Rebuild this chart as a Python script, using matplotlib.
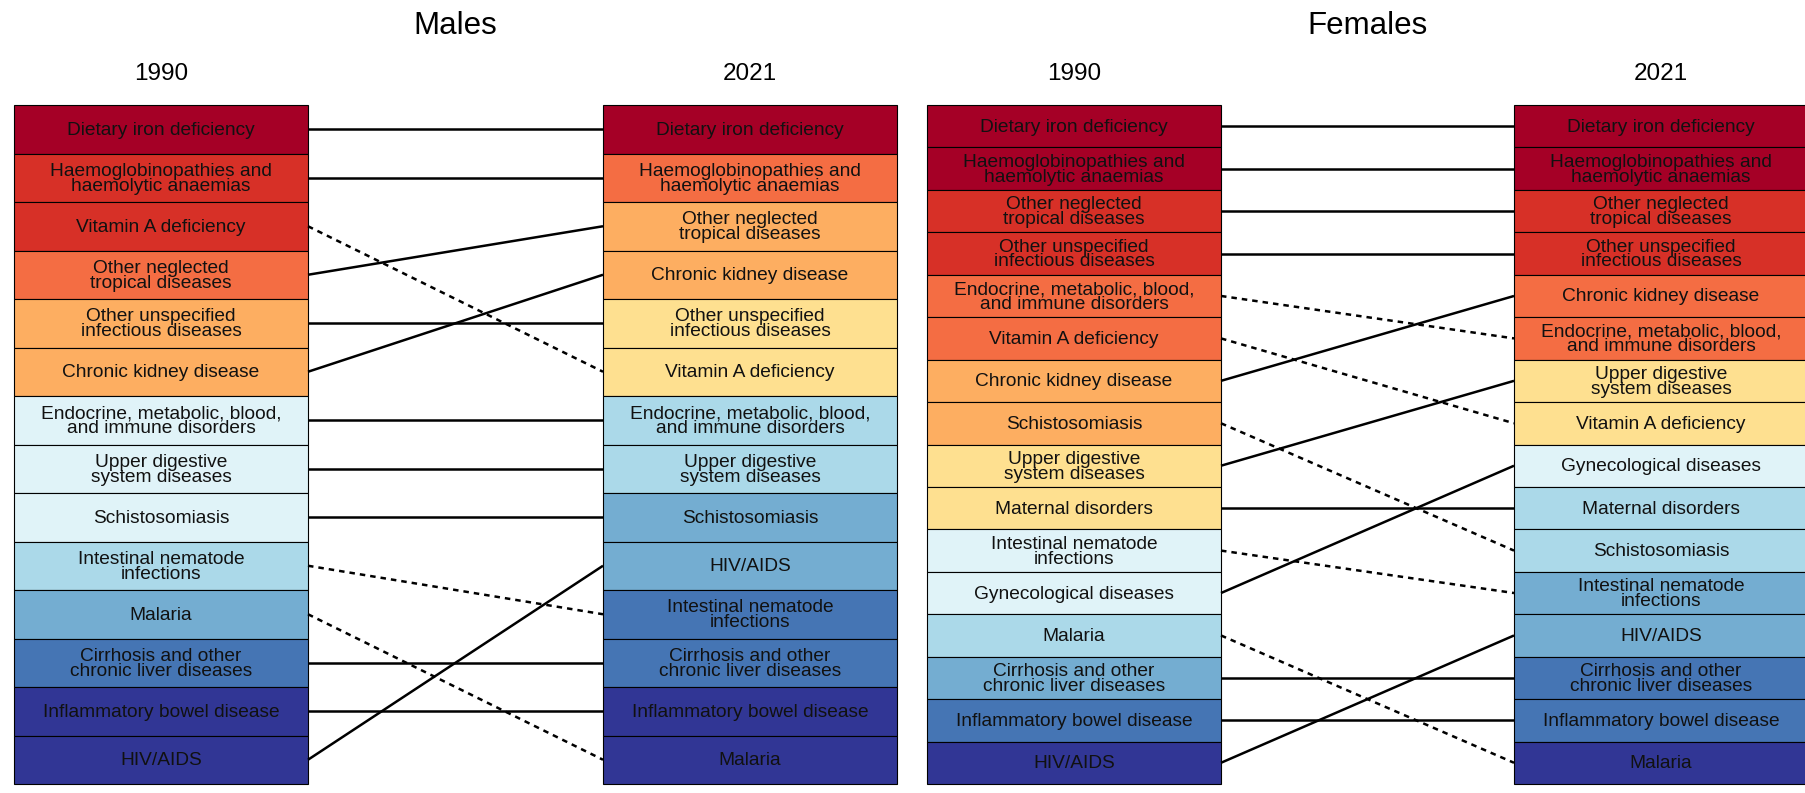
import matplotlib.pyplot as plt
from matplotlib.patches import Rectangle

# rankings (top to bottom) and colour class of each cell
male_1990 = ["Dietary iron deficiency", "Haemoglobinopathies and\nhaemolytic anaemias",
             "Vitamin A deficiency", "Other neglected\ntropical diseases",
             "Other unspecified\ninfectious diseases", "Chronic kidney disease",
             "Endocrine, metabolic, blood,\nand immune disorders", "Upper digestive\nsystem diseases",
             "Schistosomiasis", "Intestinal nematode\ninfections", "Malaria",
             "Cirrhosis and other\nchronic liver diseases", "Inflammatory bowel disease", "HIV/AIDS"]
male_1990_cls = [0, 1, 1, 2, 3, 3, 5, 5, 5, 6, 7, 8, 9, 9]

male_2021 = ["Dietary iron deficiency", "Haemoglobinopathies and\nhaemolytic anaemias",
             "Other neglected\ntropical diseases", "Chronic kidney disease",
             "Other unspecified\ninfectious diseases", "Vitamin A deficiency",
             "Endocrine, metabolic, blood,\nand immune disorders", "Upper digestive\nsystem diseases",
             "Schistosomiasis", "HIV/AIDS", "Intestinal nematode\ninfections",
             "Cirrhosis and other\nchronic liver diseases", "Inflammatory bowel disease", "Malaria"]
male_2021_cls = [0, 2, 3, 3, 4, 4, 6, 6, 7, 7, 8, 8, 9, 9]

female_1990 = ["Dietary iron deficiency", "Haemoglobinopathies and\nhaemolytic anaemias",
               "Other neglected\ntropical diseases", "Other unspecified\ninfectious diseases",
               "Endocrine, metabolic, blood,\nand immune disorders", "Vitamin A deficiency",
               "Chronic kidney disease", "Schistosomiasis", "Upper digestive\nsystem diseases",
               "Maternal disorders", "Intestinal nematode\ninfections", "Gynecological diseases",
               "Malaria", "Cirrhosis and other\nchronic liver diseases", "Inflammatory bowel disease",
               "HIV/AIDS"]
female_1990_cls = [0, 0, 1, 1, 2, 2, 3, 3, 4, 4, 5, 5, 6, 7, 8, 9]

female_2021 = ["Dietary iron deficiency", "Haemoglobinopathies and\nhaemolytic anaemias",
               "Other neglected\ntropical diseases", "Other unspecified\ninfectious diseases",
               "Chronic kidney disease", "Endocrine, metabolic, blood,\nand immune disorders",
               "Upper digestive\nsystem diseases", "Vitamin A deficiency", "Gynecological diseases",
               "Maternal disorders", "Schistosomiasis", "Intestinal nematode\ninfections",
               "HIV/AIDS", "Cirrhosis and other\nchronic liver diseases", "Inflammatory bowel disease",
               "Malaria"]
female_2021_cls = [0, 0, 1, 1, 2, 2, 4, 4, 5, 6, 6, 7, 7, 8, 8, 9]

palette = ['#a50026', '#d73027', '#f46d43', '#fdae61', '#fee090',
           '#e0f3f8', '#abd9e9', '#74add1', '#4575b4', '#313695']

plt.rcParams['font.family'] = 'Liberation Sans'

fig = plt.figure(figsize=(18.06, 7.93), dpi=100)
ax = fig.add_axes([0, 0, 1, 1])
ax.set_xlim(0, 1806)
ax.set_ylim(793, 0)
ax.axis('off')

top, bottom = 105, 784
bw = 294


def column(labels, cls, x0, n):
    h = (bottom - top) / n
    for i, (lab, c) in enumerate(zip(labels, cls)):
        ax.add_patch(Rectangle((x0, top + i * h), bw, h, facecolor=palette[c],
                               edgecolor='black', lw=0.8, clip_on=False))
        ax.text(x0 + bw / 2, top + (i + 0.5) * h + 1, lab, ha='center', va='center',
                fontsize=13.8, linespacing=0.84, color='#111111')


def panel(title, left, lcls, right, rcls, lx, rx):
    n = len(left)
    h = (bottom - top) / n
    column(left, lcls, lx, n)
    column(right, rcls, rx, n)
    for i, lab in enumerate(left):
        j = right.index(lab)
        ls = '-' if j <= i else (0, (2.2, 2.0))
        ax.plot([lx + bw, rx], [top + (i + 0.5) * h, top + (j + 0.5) * h],
                color='black', lw=1.8, ls=ls, solid_capstyle='butt')
    ax.text((lx + rx + bw) / 2, 26, title, ha='center', va='center', fontsize=22.5)
    ax.text(lx + bw / 2, 74, '1990', ha='center', va='center', fontsize=17.5)
    ax.text(rx + bw / 2, 74, '2021', ha='center', va='center', fontsize=17.5)


panel('Males', male_1990, male_1990_cls, male_2021, male_2021_cls, 14, 603)
panel('Females', female_1990, female_1990_cls, female_2021, female_2021_cls, 927, 1514)

fig.savefig('out.png', dpi=100)
